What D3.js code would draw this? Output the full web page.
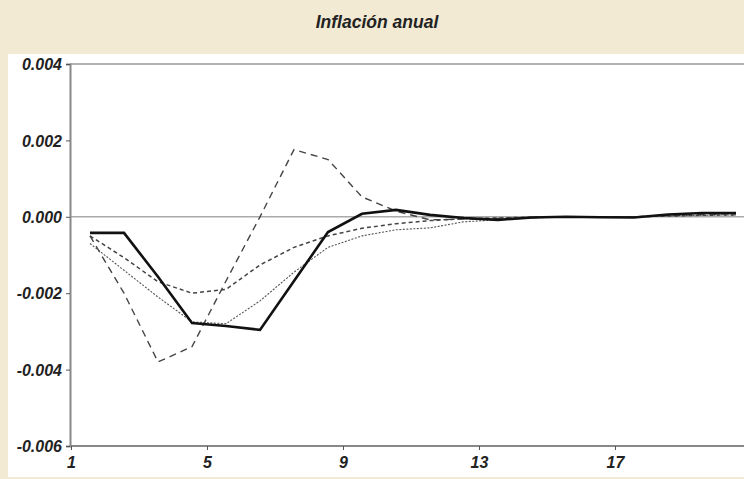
<!DOCTYPE html>
<html>
<head>
<meta charset="utf-8">
<script src="https://cdn.jsdelivr.net/npm/d3@7"></script>
<style>
  html, body { margin: 0; padding: 0; background: #F2EAD3; }
  svg { display: block; }
  .lbl { font-family: "Liberation Sans Narrow", "Arial Narrow", "Liberation Sans", sans-serif; font-style: italic; font-weight: bold; fill: #222; }
</style>
</head>
<body>
<script>
const periods = d3.range(1, 21);
const tickPeriods = [1, 5, 9, 13, 17];
const yTicks = [-0.006, -0.004, -0.002, 0.000, 0.002, 0.004];

const solidSeries = [-0.00042, -0.00042, -0.00157, -0.00278, -0.00286, -0.00296, -0.00168, -0.00040, 0.00008, 0.00018,
                     0.00005, -0.00003, -0.00008, -0.00002, 0.00000, -0.00001, -0.00002, 0.00006, 0.00010, 0.00010];
const longDashSeries = [-0.00050, -0.00200, -0.00380, -0.00340, -0.00168, 0.00000, 0.00176, 0.00150, 0.00052, 0.00015,
                        -0.00008, -0.00006, -0.00004, -0.00002, 0.00000, 0.00000, 0.00000, 0.00003, 0.00006, 0.00008];
const medDashSeries = [-0.00050, -0.00107, -0.00170, -0.00200, -0.00190, -0.00126, -0.00080, -0.00050, -0.00030, -0.00018,
                       -0.00010, -0.00005, -0.00003, -0.00001, 0.00000, 0.00000, 0.00000, 0.00002, 0.00004, 0.00005];
const dottedSeries = [-0.00070, -0.00140, -0.00210, -0.00275, -0.00280, -0.00220, -0.00145, -0.00080, -0.00050, -0.00034,
                      -0.00029, -0.00013, -0.00008, -0.00003, 0.00000, 0.00000, 0.00000, 0.00002, 0.00004, 0.00005];

const W = 744, H = 479;
const svg = d3.select("body").append("svg").attr("width", W).attr("height", H);

svg.append("rect").attr("width", W).attr("height", H).attr("fill", "#F2EAD3");
svg.append("rect").attr("x", 8).attr("y", 54).attr("width", W - 8).attr("height", 423).attr("fill", "#ffffff");

svg.append("text").attr("class", "lbl").attr("x", 377).attr("y", 28)
  .attr("text-anchor", "middle").style("font-size", "17.5px").text("Inflación anual");

const pLeft = 70, pRight = 744, pTop = 64, pBottom = 446;
const y = d3.scaleLinear().domain([-0.006, 0.004]).range([pBottom, pTop]);
const x = d3.scaleLinear().domain([1, 20]).range([90, 736]);
const xAxisScale = d3.scaleLinear().domain([1, 20]).range([71, 717]);

// top border & zero line
svg.append("line").attr("x1", pLeft).attr("x2", pRight).attr("y1", y(0.004)).attr("y2", y(0.004))
  .attr("stroke", "#999").attr("stroke-width", 1.5);
svg.append("line").attr("x1", pLeft).attr("x2", pRight).attr("y1", y(0)).attr("y2", y(0))
  .attr("stroke", "#aaa").attr("stroke-width", 1.5);

// Y axis
const yAxis = d3.axisLeft(y).tickValues(yTicks).tickSize(4).tickPadding(4)
  .tickFormat(d => d3.format(".3f")(d).replace("−", "-"));
const gy = svg.append("g").attr("transform", `translate(${pLeft},0)`).call(yAxis);
gy.select(".domain").attr("stroke", "#888").attr("stroke-width", 2);
gy.selectAll(".tick line").attr("stroke", "#555");
gy.selectAll(".tick text").attr("class", "lbl").style("font-size", "16px").attr("dy", "0.35em");

// X axis
const xAxis = d3.axisBottom(xAxisScale).tickValues(tickPeriods).tickSize(4).tickPadding(4).tickSizeOuter(0);
const gx = svg.append("g").attr("transform", `translate(0,${pBottom})`).call(xAxis);
gx.select(".domain").attr("d", `M${pLeft},0H${pRight}`).attr("stroke", "#888").attr("stroke-width", 2);
gx.selectAll(".tick line").attr("stroke", "#555");
gx.selectAll(".tick text").attr("class", "lbl").style("font-size", "16px").attr("dy", "0.85em");

const line = d3.line().x((d, i) => x(periods[i])).y(d => y(d));

svg.append("path").datum(dottedSeries).attr("d", line).attr("fill", "none")
  .attr("stroke", "#555").attr("stroke-width", 1.1).attr("stroke-dasharray", "2,1.5");
svg.append("path").datum(medDashSeries).attr("d", line).attr("fill", "none")
  .attr("stroke", "#444").attr("stroke-width", 1.5).attr("stroke-dasharray", "4,3");
svg.append("path").datum(longDashSeries).attr("d", line).attr("fill", "none")
  .attr("stroke", "#444").attr("stroke-width", 1.4).attr("stroke-dasharray", "7,5");
svg.append("path").datum(solidSeries).attr("d", line).attr("fill", "none")
  .attr("stroke", "#111").attr("stroke-width", 2.6);
</script>
</body>
</html>
